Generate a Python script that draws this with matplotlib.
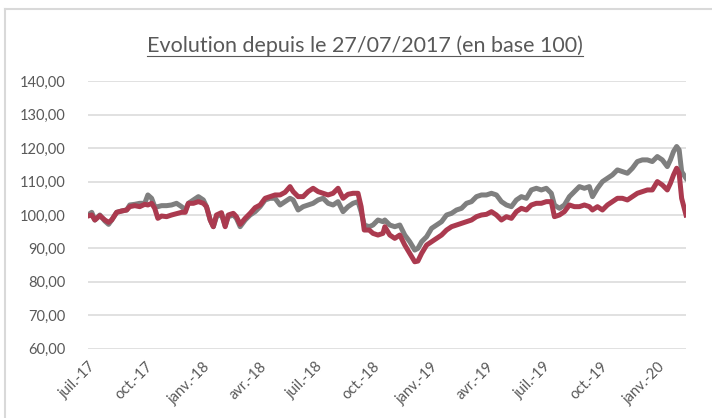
import matplotlib
matplotlib.use("Agg")
import matplotlib.pyplot as plt
from matplotlib.lines import Line2D
import pandas as pd

# values (base 100 on 27/07/2017)
dates = [
    "2017-07-27", "2017-08-02", "2017-08-07", "2017-08-15", "2017-08-23", "2017-08-29",
    "2017-09-03", "2017-09-11", "2017-09-19", "2017-09-27", "2017-10-02", "2017-10-10",
    "2017-10-18", "2017-10-26", "2017-10-31", "2017-11-06", "2017-11-11", "2017-11-16",
    "2017-11-22", "2017-11-30", "2017-12-08", "2017-12-16", "2017-12-24", "2017-12-30",
    "2018-01-04", "2018-01-12", "2018-01-20", "2018-01-28", "2018-02-02", "2018-02-08",
    "2018-02-13", "2018-02-18", "2018-02-26", "2018-03-04", "2018-03-09", "2018-03-17",
    "2018-03-22", "2018-03-28", "2018-04-05", "2018-04-13", "2018-04-21", "2018-04-29",
    "2018-05-07", "2018-05-15", "2018-05-23", "2018-05-31", "2018-06-08", "2018-06-16",
    "2018-06-21", "2018-06-29", "2018-07-07", "2018-07-15", "2018-07-23", "2018-07-31",
    "2018-08-08", "2018-08-16", "2018-08-24", "2018-09-01", "2018-09-09", "2018-09-17",
    "2018-09-25", "2018-10-03", "2018-10-08", "2018-10-13", "2018-10-21", "2018-10-27",
    "2018-11-04", "2018-11-12",
    "2018-11-15", "2018-11-23", "2018-12-01", "2018-12-09", "2018-12-17", "2018-12-25",
    "2019-01-02", "2019-01-07", "2019-01-13", "2019-01-21", "2019-01-29", "2019-02-06",
    "2019-02-14", "2019-02-22", "2019-03-02", "2019-03-10", "2019-03-18", "2019-03-26",
    "2019-04-03", "2019-04-11", "2019-04-19", "2019-04-27", "2019-05-05", "2019-05-13",
    "2019-05-21", "2019-05-29", "2019-06-06", "2019-06-14", "2019-06-22", "2019-06-30",
    "2019-07-08", "2019-07-16", "2019-07-24", "2019-08-01", "2019-08-09", "2019-08-14",
    "2019-08-22", "2019-08-30", "2019-09-07", "2019-09-15", "2019-09-23", "2019-10-01",
    "2019-10-09", "2019-10-14", "2019-10-22", "2019-10-30", "2019-11-07", "2019-11-15",
    "2019-11-23", "2019-12-01", "2019-12-09", "2019-12-17", "2019-12-25", "2020-01-02",
    "2020-01-10", "2020-01-18", "2020-01-26", "2020-02-03", "2020-02-11", "2020-02-16",
    "2020-02-21", "2020-02-26", "2020-03-01", "2020-03-05", "2020-03-12",
]

grey_series = [
    100.0, 100.8, 98.5, 100.0, 98.2, 97.2,
    98.5, 100.8, 101.2, 101.5, 103.0, 103.2,
    103.5, 103.5, 106.0, 105.0, 102.5, 102.5,
    102.8, 102.8, 103.0, 103.5, 102.5, 101.5,
    103.5, 104.5, 105.5, 104.5, 102.5, 98.5,
    96.5, 99.5, 100.2, 96.8, 99.5, 100.0,
    99.0, 96.5, 98.5, 100.0, 101.0, 102.5,
    104.5, 105.0, 105.0, 103.0, 104.0, 105.0,
    104.5, 101.5, 102.5, 103.0, 103.5, 104.5,
    105.0, 103.5, 103.0, 104.0, 101.0, 102.5,
    103.5, 104.0, 101.0, 97.0, 96.5, 97.0,
    98.5, 98.0,
    98.5, 97.0, 96.5, 97.0, 94.0, 92.0,
    89.5, 90.0, 92.0, 93.5, 96.0, 97.0,
    98.0, 100.0, 100.5, 101.5, 102.0, 103.5,
    104.0, 105.5, 106.0, 106.0, 106.5, 106.0,
    104.0, 103.0, 102.5, 104.5, 105.5, 105.0,
    107.5, 108.0, 107.5, 108.0, 106.5, 103.0,
    102.0, 103.0, 105.5, 107.0, 108.5, 108.0,
    108.5, 105.5, 108.0, 110.0, 111.0, 112.0,
    113.5, 113.0, 112.5, 114.0, 116.0, 116.5,
    116.5, 116.0, 117.5, 116.5, 114.5, 116.5,
    119.0, 120.5, 119.5, 113.0, 111.0,
]

red_series = [
    99.7, 100.0, 98.5, 99.8, 98.5, 97.8,
    98.5, 100.8, 101.2, 101.5, 102.5, 102.8,
    102.5, 103.2, 103.0, 103.5, 102.0, 99.0,
    99.7, 99.5, 100.0, 100.4, 100.8, 100.8,
    103.5, 103.5, 104.0, 103.5, 102.5, 98.5,
    96.5, 100.0, 100.7, 96.5, 100.0, 100.5,
    99.5, 97.2, 99.0, 100.5, 102.2, 103.0,
    105.0, 105.5, 106.0, 106.0, 106.8, 108.5,
    107.0, 105.5, 105.5, 107.0, 108.0, 107.0,
    106.5, 106.0, 106.5, 108.0, 105.0, 106.2,
    106.5, 106.5, 102.5, 95.5, 95.5, 94.5,
    94.0, 94.5,
    96.5, 94.0, 93.0, 94.0, 91.0, 88.5,
    86.0, 86.2, 88.5, 91.0, 92.0, 93.0,
    94.0, 95.5, 96.5, 97.0, 97.5, 98.0,
    98.5, 99.5, 100.0, 100.2, 101.0, 100.0,
    98.5, 99.5, 99.0, 101.0, 102.0, 101.5,
    103.0, 103.5, 103.5, 104.0, 104.0, 99.5,
    100.0, 101.0, 103.0, 102.5, 102.5, 103.0,
    102.5, 101.5, 102.5, 101.5, 103.0, 104.0,
    105.0, 105.0, 104.5, 105.5, 106.5, 107.0,
    107.5, 107.5, 110.0, 109.0, 107.5, 109.5,
    112.0, 114.0, 112.5, 105.0, 100.0,
]

tick_dates = [
    "2017-07-27", "2017-10-27", "2018-01-27", "2018-04-27", "2018-07-27", "2018-10-27",
    "2019-01-27", "2019-04-27", "2019-07-27", "2019-10-27", "2020-01-27",
]
tick_labels = [
    "juil.-17", "oct.-17", "janv.-18", "avr.-18", "juil.-18", "oct.-18",
    "janv.-19", "avr.-19", "juil.-19", "oct.-19", "janv.-20",
]
y_ticks = [60, 70, 80, 90, 100, 110, 120, 130, 140]

title_text = "Evolution depuis le 27/07/2017 (en base 100)"

plt.rcParams['font.family'] = ['Lato', 'DejaVu Sans']
text_grey = '#595959'
grid_grey = '#D9D9D9'

x = pd.to_datetime(dates)

fig = plt.figure(figsize=(7.12, 4.18), dpi=100)
ax = fig.add_axes([88 / 712, 1 - 348.6 / 418, (686 - 88) / 712, (348.6 - 81.4) / 418])

ax.plot(x, grey_series, color='#7F7F7F', lw=3.6, solid_joinstyle='round', zorder=3)
ax.plot(x, red_series, color='#AB3A4F', lw=3.6, solid_joinstyle='round', zorder=4)

ax.set_ylim(60, 140)
ax.set_xlim(pd.Timestamp(dates[0]), pd.Timestamp(dates[-1]))
ax.set_yticks(y_ticks)
ax.set_yticklabels([f"{v:.2f}".replace('.', ',') for v in y_ticks])
ax.set_xticks(pd.to_datetime(tick_dates))
ax.set_xticklabels(tick_labels, rotation=45, ha='right', va='top', rotation_mode='anchor')

ax.grid(axis='y', color=grid_grey, lw=1.1)
ax.set_axisbelow(True)
for s in ax.spines.values():
    s.set_visible(False)
ax.tick_params(axis='both', length=0, colors=text_grey, labelsize=10.5)
ax.tick_params(axis='y', pad=16)
ax.tick_params(axis='x', pad=8)

# title with underline
title = fig.text(365 / 712, 1 - 52 / 418, title_text, ha='center', va='baseline',
                 fontsize=15.5, color=text_grey)
fig.canvas.draw()
bb = title.get_window_extent()
W, H = fig.bbox.width, fig.bbox.height
fig.add_artist(Line2D([bb.x0 / W, bb.x1 / W], [1 - 55.5 / 418, 1 - 55.5 / 418],
                      color=text_grey, lw=0.8))

# chart frame (cut off at right and bottom)
fig.add_artist(Line2D([5 / 712, 5 / 712], [0, 1 - 9 / 418], color=grid_grey, lw=1.5))
fig.add_artist(Line2D([5 / 712, 1], [1 - 9 / 418, 1 - 9 / 418], color=grid_grey, lw=1.5))

fig.savefig('out.png', dpi=100)
